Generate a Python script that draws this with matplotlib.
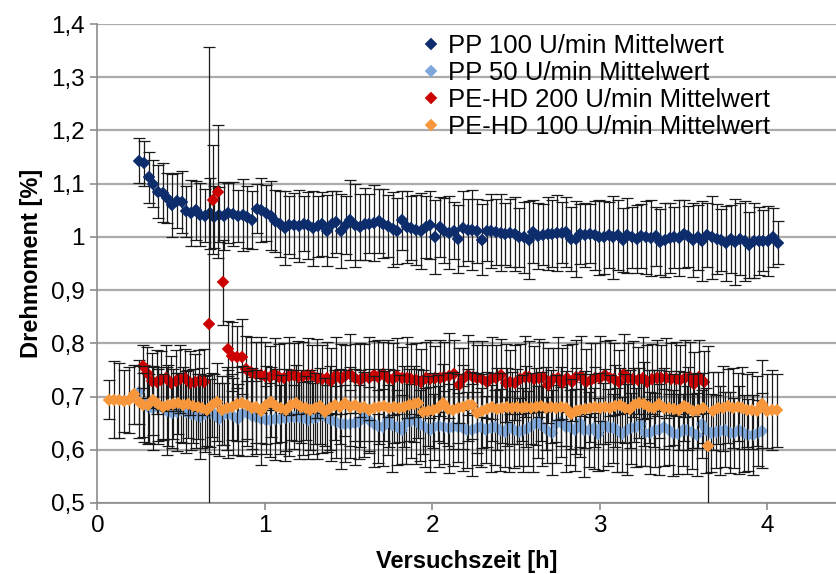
import numpy as np
import matplotlib
matplotlib.use("Agg")
import matplotlib.pyplot as plt
from matplotlib.ticker import FuncFormatter, MultipleLocator

plt.rcParams['font.family'] = ['Liberation Sans', 'DejaVu Sans']

labels = ["PP 100 U/min Mittelwert", "PP 50 U/min Mittelwert",
          "PE-HD 200 U/min Mittelwert", "PE-HD 100 U/min Mittelwert"]

# PP 100 U/min, 0.25 h .. 4.06 h
pp100 = [1.143, 1.138, 1.112, 1.100, 1.085, 1.083, 1.073, 1.059, 1.068, 1.065,
         1.048, 1.045, 1.050, 1.042, 1.040, 1.044, 1.038, 1.042, 1.040, 1.045,
         1.043, 1.040, 1.041, 1.038, 1.032, 1.053, 1.050, 1.045, 1.040, 1.030,
         1.025, 1.017, 1.022, 1.022, 1.020, 1.025, 1.022, 1.016, 1.020, 1.025,
         1.012, 1.025, 1.028, 1.011, 1.022, 1.031, 1.022, 1.018, 1.024, 1.025,
         1.026, 1.030, 1.025, 1.020, 1.014, 1.011, 1.031, 1.018, 1.016, 1.013,
         1.011, 1.018, 1.023, 1.000, 1.019, 1.012, 1.008, 1.012, 0.996, 1.016,
         1.013, 1.013, 1.011, 0.995, 1.012, 1.011, 1.010, 1.008, 1.005, 1.008,
         1.005, 0.999, 0.999, 0.994, 1.010, 1.002, 1.004, 1.006, 1.006, 1.007,
         1.008, 1.009, 0.996, 0.996, 1.005, 1.003, 1.006, 1.003, 0.999, 0.999,
         1.003, 0.999, 1.003, 0.994, 1.003, 0.999, 0.996, 1.001, 0.999, 0.998,
         1.001, 0.990, 0.994, 0.998, 0.999, 0.998, 1.006, 1.001, 0.994, 0.999,
         0.992, 1.003, 0.999, 0.996, 0.994, 0.988, 0.996, 0.990, 0.996, 0.993,
         0.985, 0.993, 0.993, 0.993, 0.992, 0.999, 0.989]
pp100_err = [0.042, 0.043, 0.048, 0.044, 0.050, 0.055, 0.047, 0.060, 0.052, 0.058,
             0.048, 0.062, 0.055, 0.060, 0.050, 0.066, 0.058, 0.052, 0.064, 0.057,
             0.061, 0.049, 0.067, 0.058, 0.054, 0.046, 0.060, 0.052, 0.065, 0.058,
             0.062, 0.070, 0.055, 0.061, 0.068, 0.052, 0.063, 0.071, 0.057, 0.060,
             0.066, 0.062, 0.058, 0.070, 0.055, 0.075, 0.078, 0.062, 0.068, 0.055,
             0.072, 0.060, 0.065, 0.058, 0.070, 0.062, 0.055, 0.068, 0.060, 0.066,
             0.072, 0.058, 0.064, 0.070, 0.056, 0.062, 0.068, 0.054, 0.063, 0.071,
             0.059, 0.075, 0.061, 0.066, 0.057, 0.069, 0.062, 0.073, 0.058, 0.064,
             0.070, 0.055, 0.067, 0.074, 0.060, 0.062, 0.057, 0.069, 0.063, 0.071,
             0.058, 0.066, 0.061, 0.072, 0.056, 0.060, 0.055, 0.065, 0.070, 0.068,
             0.062, 0.078, 0.066, 0.060, 0.071, 0.058, 0.064, 0.060, 0.068, 0.072,
             0.056, 0.062, 0.070, 0.066, 0.058, 0.072, 0.064, 0.057, 0.069, 0.061,
             0.075, 0.060, 0.078, 0.066, 0.059, 0.070, 0.063, 0.081, 0.068, 0.075,
             0.062, 0.070, 0.064, 0.058, 0.066, 0.055, 0.040]

# PP 50 U/min, 0.25 h .. 3.97 h
pp50 = [0.708, 0.687, 0.678, 0.678, 0.681, 0.678, 0.673, 0.669, 0.671, 0.674,
        0.671, 0.667, 0.665, 0.662, 0.667, 0.669, 0.667, 0.657, 0.667, 0.667,
        0.663, 0.657, 0.667, 0.669, 0.663, 0.661, 0.657, 0.656, 0.656, 0.657,
        0.657, 0.659, 0.661, 0.661, 0.661, 0.659, 0.656, 0.659, 0.662,
        0.665, 0.659, 0.656, 0.652, 0.648, 0.649, 0.649, 0.651, 0.652, 0.661,
        0.656, 0.649, 0.644, 0.642, 0.656, 0.646, 0.642, 0.638, 0.651, 0.654,
        0.656, 0.646, 0.642, 0.638, 0.642, 0.644, 0.642, 0.640, 0.642, 0.642,
        0.640, 0.637, 0.637, 0.640, 0.642, 0.638, 0.640, 0.642, 0.637, 0.634,
        0.642, 0.638, 0.634, 0.637, 0.640, 0.646, 0.652, 0.644, 0.638, 0.632,
        0.649, 0.652,
        0.642, 0.642, 0.638, 0.651, 0.638, 0.638, 0.640, 0.629, 0.644, 0.642,
        0.640, 0.637, 0.629, 0.638, 0.640, 0.642, 0.649, 0.632, 0.632, 0.637,
        0.638, 0.642, 0.638, 0.632, 0.629, 0.637, 0.637, 0.634, 0.628, 0.649,
        0.637, 0.632, 0.634, 0.636, 0.638, 0.632, 0.631, 0.637, 0.631, 0.628,
        0.628, 0.631, 0.636]
pp50_err = [0.060, 0.072, 0.065, 0.078, 0.070, 0.058, 0.082, 0.066, 0.074, 0.060,
            0.077, 0.068, 0.062, 0.080, 0.071, 0.064, 0.075, 0.069, 0.058, 0.083,
            0.072, 0.066, 0.079, 0.061, 0.074, 0.068, 0.085, 0.063, 0.070, 0.076,
            0.065, 0.081, 0.072, 0.060, 0.078, 0.069, 0.074, 0.066, 0.080, 0.071,
            0.063, 0.077, 0.068, 0.085, 0.072, 0.064, 0.079, 0.070, 0.075, 0.062,
            0.082, 0.069, 0.073, 0.066, 0.088, 0.071, 0.064, 0.078, 0.070, 0.083,
            0.067, 0.074, 0.080, 0.062, 0.076, 0.069, 0.084, 0.072, 0.065, 0.079,
            0.071, 0.086, 0.068, 0.074, 0.063, 0.081, 0.070, 0.077, 0.066, 0.083,
            0.072, 0.064, 0.079, 0.070, 0.087, 0.068, 0.075, 0.062, 0.080, 0.073,
            0.066, 0.084, 0.071, 0.077, 0.064, 0.089, 0.070, 0.076, 0.068, 0.082,
            0.073, 0.065, 0.079, 0.071, 0.085, 0.067, 0.074, 0.080, 0.063, 0.077,
            0.070, 0.086, 0.072, 0.066, 0.081, 0.075, 0.068, 0.083, 0.071, 0.078,
            0.064, 0.080, 0.073, 0.069, 0.084, 0.070, 0.076, 0.066, 0.082, 0.072,
            0.068, 0.075, 0.062, 0.070]

# PE-HD 200 U/min, 0.27 h .. 3.62 h
pehd200 = [0.757, 0.745, 0.730, 0.728, 0.731, 0.735, 0.726, 0.730, 0.733, 0.735,
           0.725, 0.728, 0.730, 0.727, 0.836, 1.070, 1.085, 0.915, 0.790, 0.776,
           0.775, 0.775, 0.752, 0.746, 0.743, 0.740, 0.738, 0.737, 0.742, 0.737,
           0.735, 0.739, 0.741, 0.736, 0.738, 0.740, 0.740, 0.734, 0.733, 0.734,
           0.730, 0.740, 0.733, 0.739, 0.743, 0.734, 0.731, 0.737, 0.734, 0.740,
           0.737, 0.742, 0.734, 0.733, 0.739, 0.734, 0.735, 0.733, 0.731, 0.728,
           0.734, 0.733, 0.734, 0.735, 0.737, 0.739, 0.743, 0.721, 0.733, 0.740,
           0.737, 0.734, 0.733, 0.728, 0.734, 0.735, 0.740, 0.726, 0.728, 0.726,
           0.733, 0.737, 0.737, 0.733, 0.735, 0.737, 0.721, 0.733, 0.734, 0.725,
           0.734, 0.727, 0.737, 0.738, 0.728, 0.731, 0.735, 0.734, 0.740, 0.735,
           0.733, 0.727, 0.743, 0.735, 0.733, 0.731, 0.734, 0.728, 0.733, 0.735,
           0.734, 0.735, 0.733, 0.733, 0.732, 0.734, 0.736, 0.724, 0.737, 0.728]
pehd200_err = [0.040, 0.048, 0.052, 0.060, 0.055, 0.062, 0.050, 0.058, 0.064, 0.055,
               0.060, 0.052, 0.058, 0.062, 0.521, 0.103, 0.125, 0.080, 0.052, 0.065,
               0.058, 0.070, 0.062, 0.066, 0.060, 0.071, 0.064, 0.058, 0.068, 0.062,
               0.066, 0.073, 0.059, 0.068, 0.064, 0.070, 0.057, 0.075, 0.063, 0.069,
               0.061, 0.072, 0.066, 0.058, 0.074, 0.065, 0.070, 0.062, 0.078, 0.064,
               0.069, 0.060, 0.073, 0.067, 0.071, 0.059, 0.076, 0.065, 0.070, 0.062,
               0.068, 0.074, 0.061, 0.072, 0.066, 0.080, 0.064, 0.070, 0.058, 0.075,
               0.067, 0.063, 0.071, 0.069, 0.077, 0.062, 0.068, 0.073, 0.060, 0.070,
               0.065, 0.076, 0.068, 0.062, 0.074, 0.066, 0.071, 0.059, 0.078, 0.067,
               0.063, 0.072, 0.069, 0.075, 0.061, 0.070, 0.066, 0.079, 0.064, 0.071,
               0.068, 0.060, 0.074, 0.066, 0.072, 0.063, 0.077, 0.069, 0.065, 0.071,
               0.062, 0.075, 0.068, 0.070, 0.064, 0.073, 0.067, 0.060, 0.069, 0.058]

# PE-HD 100 U/min, 0.07 h .. 4.056 h
pehd100 = [0.694, 0.694, 0.693, 0.692, 0.694, 0.704, 0.690, 0.684, 0.684, 0.693,
           0.686, 0.681, 0.684, 0.686, 0.687, 0.684, 0.686, 0.682, 0.681, 0.678,
           0.674, 0.684, 0.690, 0.674, 0.678, 0.681, 0.686, 0.687, 0.684, 0.678,
           0.681, 0.673, 0.684, 0.690, 0.682, 0.678, 0.674, 0.684, 0.688, 0.681,
           0.678,
           0.674, 0.678, 0.682, 0.671, 0.678, 0.684, 0.681, 0.688, 0.681,
           0.684, 0.678, 0.681, 0.674, 0.678, 0.681, 0.682, 0.678, 0.681, 0.678,
           0.681, 0.684, 0.686, 0.687, 0.671, 0.673, 0.674, 0.678, 0.687, 0.676,
           0.674, 0.678, 0.681, 0.684, 0.684, 0.669, 0.673, 0.676, 0.681, 0.676,
           0.678, 0.681, 0.678, 0.681, 0.678, 0.681, 0.678, 0.681, 0.682, 0.678,
           0.681, 0.678, 0.681, 0.678,
           0.667, 0.673, 0.674, 0.676, 0.678, 0.681, 0.678, 0.681,
           0.678, 0.682, 0.684, 0.678, 0.676, 0.684, 0.688, 0.686, 0.681, 0.678,
           0.686, 0.678, 0.678, 0.676, 0.674, 0.682, 0.678, 0.673, 0.674, 0.678,
           0.608, 0.673, 0.678, 0.678, 0.682, 0.678, 0.681, 0.678, 0.674, 0.674,
           0.673, 0.686, 0.673, 0.674, 0.674]
pehd100_err = [0.037, 0.072, 0.070, 0.058, 0.062, 0.055, 0.068, 0.060, 0.074, 0.065,
               0.070, 0.062, 0.076, 0.066, 0.058, 0.072, 0.064, 0.070, 0.061, 0.075,
               0.067, 0.060, 0.073, 0.065, 0.078, 0.062, 0.069, 0.071, 0.064, 0.076,
               0.068, 0.061, 0.074, 0.066, 0.070, 0.063, 0.077, 0.065, 0.072, 0.068,
               0.060, 0.075, 0.067, 0.071, 0.064, 0.079, 0.066, 0.070, 0.062, 0.074,
               0.068, 0.072, 0.065, 0.077, 0.061, 0.070, 0.066, 0.073, 0.069, 0.063,
               0.076, 0.067, 0.071, 0.064, 0.078, 0.066, 0.070, 0.062, 0.074, 0.068,
               0.072, 0.065, 0.079, 0.067, 0.063, 0.075, 0.069, 0.071, 0.064, 0.077,
               0.066, 0.073, 0.068, 0.070, 0.062, 0.076, 0.067, 0.072, 0.065, 0.078,
               0.069, 0.063, 0.074, 0.070, 0.066, 0.080, 0.068, 0.072, 0.064, 0.075,
               0.067, 0.071, 0.063, 0.077, 0.069, 0.065, 0.073, 0.070, 0.066, 0.079,
               0.068, 0.072, 0.064, 0.076, 0.070, 0.067, 0.074, 0.065, 0.078, 0.069,
               0.071, 0.066, 0.187, 0.073, 0.068, 0.080, 0.070, 0.075, 0.064, 0.077,
               0.069, 0.072, 0.066, 0.083, 0.070, 0.075, 0.068]

# measurement time span of each run [h]
spans = [(0.25, 4.06), (0.25, 3.97), (0.27, 3.62), (0.07, 4.056)]
series = [(pp100, pp100_err), (pp50, pp50_err), (pehd200, pehd200_err), (pehd100, pehd100_err)]
colors = ['#0C2C6C', '#7EA8DC', '#CC0000', '#F7963A']

fig = plt.figure(figsize=(8.37, 5.74), dpi=100)
ax = fig.add_axes([97.4 / 837, 71 / 574, 1 - 97.4 / 837, 479 / 574])

for (vals, errs), (t0, t1), c, lab, z in zip(series, spans, colors, labels, range(4)):
    t = np.linspace(t0, t1, len(vals))
    ax.errorbar(t, vals, yerr=errs, fmt='none', ecolor='#1A1A1A',
                elinewidth=0.9, capsize=4, capthick=0.9, zorder=2 + z)
    ax.plot(t, vals, 'D', ms=6.4, color=c, mec=c, mew=0.3, label=lab, zorder=2.5 + z)

ax.set_xlim(0, 4.415)
ax.set_ylim(0.5, 1.4)
ax.xaxis.set_major_locator(MultipleLocator(1))
ax.yaxis.set_major_locator(MultipleLocator(0.1))
ax.yaxis.set_major_formatter(FuncFormatter(lambda v, p: ('%g' % round(v, 2)).replace('.', ',')))

ax.grid(axis='y', color='#ABABAB', linewidth=1.6, zorder=0)
ax.set_axisbelow(True)
for s in ['top', 'right']:
    ax.spines[s].set_visible(False)
for s in ['left', 'bottom']:
    ax.spines[s].set_color('#8C8C8C')
    ax.spines[s].set_linewidth(1.2)
ax.tick_params(axis='both', colors='#8C8C8C', length=5, width=1.2, labelsize=17.5,
               labelcolor='black', pad=4)

ax.set_xlabel('Versuchszeit [h]', fontsize=17, fontweight='bold', labelpad=9)
ax.set_ylabel('Drehmoment [%]', fontsize=17, fontweight='bold', labelpad=6)

leg = fig.legend(loc='upper left', bbox_to_anchor=(422 / 837, 1 - 34 / 574),
                 frameon=False, fontsize=18.5, handlelength=0.7, handletextpad=0.3,
                 labelspacing=0.12, borderpad=0, borderaxespad=0)

fig.savefig('out.png', dpi=100)
